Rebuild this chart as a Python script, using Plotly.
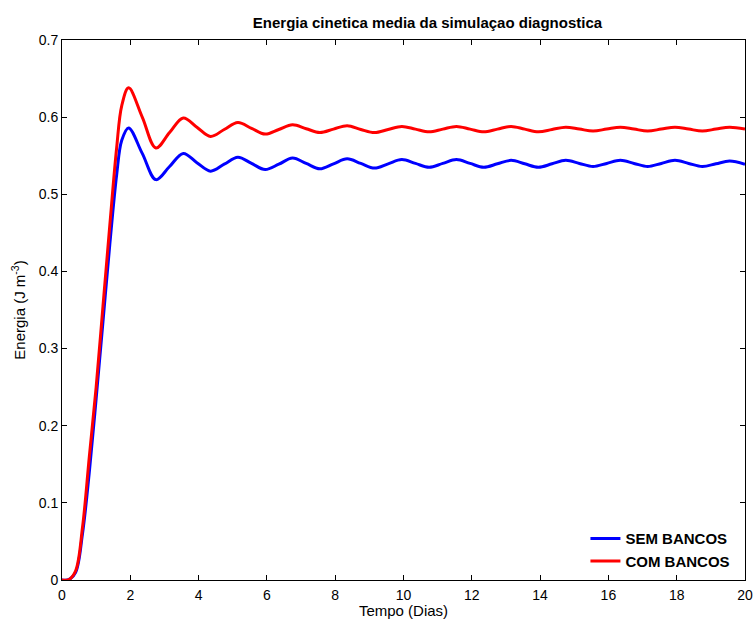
import plotly.graph_objects as go

# Time (days) and mean kinetic energy (J m^-3) for both runs
tempo = [0.0, 0.2, 0.4, 0.6, 0.8, 1.0, 1.2, 1.4, 1.6, 1.75, 1.95,
         2.35, 2.75, 3.15, 3.55, 3.95, 4.35, 4.75, 5.15, 5.55, 5.95,
         6.35, 6.75, 7.15, 7.55, 7.95, 8.35, 8.75, 9.15, 9.55, 9.95,
         10.35, 10.75, 11.15, 11.55, 11.95, 12.35, 12.75, 13.15, 13.55, 13.95,
         14.35, 14.75, 15.15, 15.55, 15.95, 16.35, 16.75, 17.15, 17.55, 17.95,
         18.35, 18.75, 19.15, 19.55, 20.0]

sem_bancos = [0.0, 0.0005, 0.010, 0.060, 0.140, 0.235, 0.335, 0.435, 0.525, 0.570, 0.586,
              0.553, 0.519, 0.536, 0.553, 0.541, 0.530, 0.539, 0.548, 0.540, 0.532,
              0.539, 0.547, 0.540, 0.533, 0.5395, 0.546, 0.540, 0.534, 0.5395, 0.545,
              0.540, 0.535, 0.540, 0.545, 0.540, 0.535, 0.5395, 0.544, 0.5395, 0.535,
              0.5395, 0.544, 0.540, 0.536, 0.540, 0.544, 0.540, 0.536, 0.540, 0.544,
              0.540, 0.536, 0.5395, 0.543, 0.539]

com_bancos = [0.0, 0.0005, 0.012, 0.068, 0.160, 0.250, 0.355, 0.460, 0.560, 0.615, 0.638,
              0.600, 0.560, 0.580, 0.599, 0.587, 0.575, 0.584, 0.593, 0.5855, 0.578,
              0.584, 0.590, 0.585, 0.580, 0.5845, 0.589, 0.584, 0.580, 0.584, 0.588,
              0.5845, 0.581, 0.5845, 0.588, 0.5845, 0.581, 0.5845, 0.588, 0.5845, 0.581,
              0.584, 0.587, 0.5845, 0.582, 0.5845, 0.587, 0.5845, 0.582, 0.5845, 0.587,
              0.5845, 0.582, 0.5845, 0.587, 0.5845]

fig = go.Figure()
fig.add_trace(go.Scatter(x=tempo, y=sem_bancos, mode="lines", name="<b>SEM BANCOS</b>",
                         line=dict(color="#0000ff", width=3, shape="spline", smoothing=1.0)))
fig.add_trace(go.Scatter(x=tempo, y=com_bancos, mode="lines", name="<b>COM BANCOS</b>",
                         line=dict(color="#ff0000", width=3, shape="spline", smoothing=1.0)))

axis_common = dict(showgrid=False, zeroline=False, showline=True, linecolor="black",
                   linewidth=1, mirror="ticks", ticks="inside", ticklen=5,
                   tickcolor="black", tickfont=dict(size=14, color="black"),
                   automargin=False)

fig.update_layout(
    width=754, height=619,
    margin=dict(l=62, r=9, t=40, b=39),
    paper_bgcolor="white", plot_bgcolor="white",
    font=dict(family="Liberation Sans, Arial, sans-serif", color="black"),
    title=dict(text="<b>Energia cinetica media da simulaçao diagnostica</b>",
               x=(62 + 745) / 2 / 754, xref="paper", xanchor="center",
               y=1 - 23 / 619, yanchor="middle",
               font=dict(size=15, color="black")),
    xaxis=dict(range=[0, 20], dtick=2, tick0=0, ticklabelstandoff=2,
               title=dict(text="Tempo (Dias)", font=dict(size=15), standoff=1),
               **axis_common),
    yaxis=dict(range=[0, 0.7], dtick=0.1, tick0=0, tickformat="~g",
               title=dict(text="Energia (J m<sup>-3</sup>)", font=dict(size=15), standoff=9),
               **axis_common),
    legend=dict(x=0.986, y=0.005, xanchor="right", yanchor="bottom",
                bgcolor="rgba(255,255,255,0)", borderwidth=0,
                font=dict(size=15, color="black"), tracegroupgap=0),
    showlegend=True,
)

fig.write_html("out.html")
